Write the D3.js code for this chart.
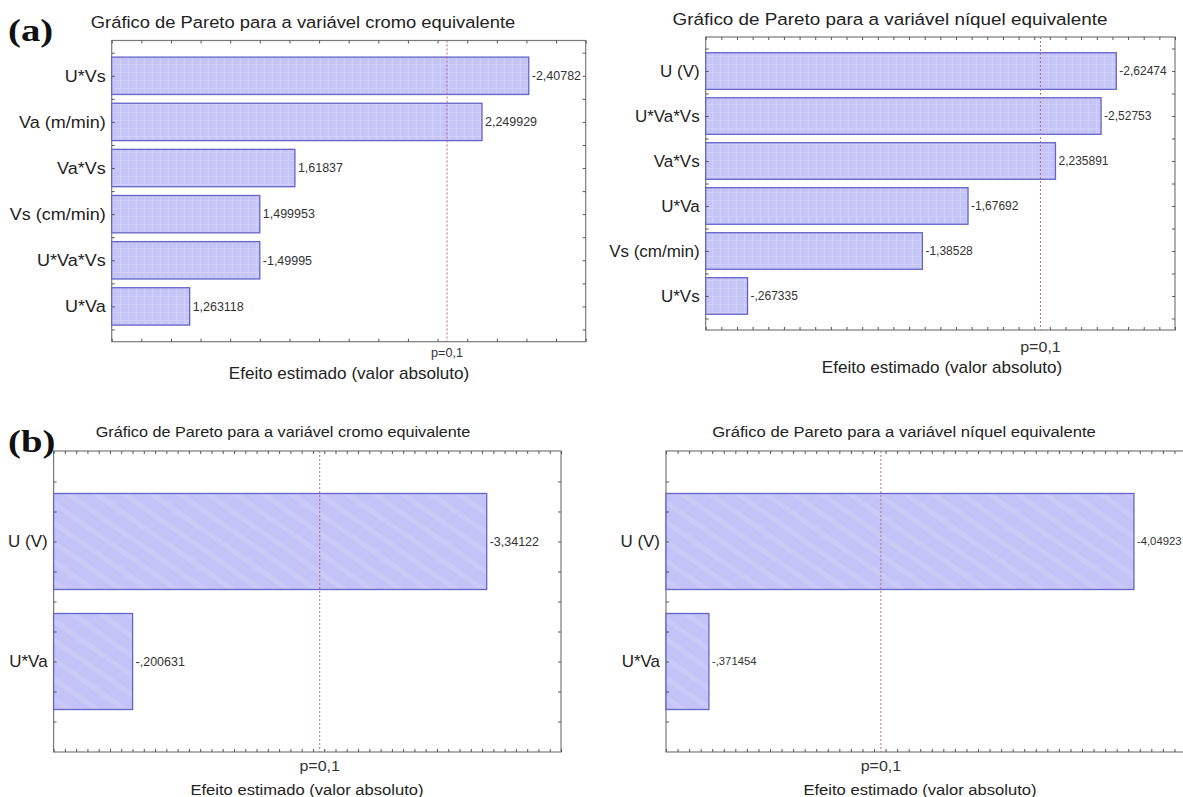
<!DOCTYPE html>
<html>
<head>
<meta charset="utf-8">
<script src="https://cdn.jsdelivr.net/npm/d3@7"></script>
<style>
  body { margin: 0; background: #fff; }
  svg { display: block; font-family: Arial, "Liberation Sans", sans-serif; }
</style>
</head>
<body>
<svg id="chart" width="1183" height="797"></svg>
<script>
// (a) cromo equivalente
const crLabelsA = ["U*Vs", "Va (m/min)", "Va*Vs", "Vs (cm/min)", "U*Va*Vs", "U*Va"];
const crEffectsA = [-2.40782, 2.249929, 1.61837, 1.499953, -1.49995, 1.263118];
const crPcritA = 2.132;

// (a) niquel equivalente
const niLabelsA = ["U (V)", "U*Va*Vs", "Va*Vs", "U*Va", "Vs (cm/min)", "U*Vs"];
const niEffectsA = [-2.62474, -2.52753, 2.235891, -1.67692, -1.38528, -0.267335];
const niPcritA = 2.14;

// (b) both
const crLabelsB = ["U (V)", "U*Va"];
const crEffectsB = [-3.34122, -0.200631];
const crPcritB = 1.86;

const niLabelsB = ["U (V)", "U*Va"];
const niEffectsB = [-4.04923, -0.371454];
const niPcritB = 1.86;

const titleCr = "Gráfico de Pareto para a variável cromo equivalente";
const titleNi = "Gráfico de Pareto para a variável níquel equivalente";
const pText = "p=0,1";
const xTitle = "Efeito estimado (valor absoluto)";

const svg = d3.select("#chart");

// bar textures
const defs = svg.append("defs");
const grid = defs.append("pattern")
    .attr("id", "texA").attr("patternUnits", "userSpaceOnUse")
    .attr("width", 8).attr("height", 8);
grid.append("rect").attr("width", 8).attr("height", 8).attr("fill", "#c5c5f7");
grid.append("path").attr("d", "M0,0.5H8M0.5,0V8").attr("stroke", "#d0d0fa").attr("stroke-width", 1);

const stripes = defs.append("pattern")
    .attr("id", "texB").attr("patternUnits", "userSpaceOnUse")
    .attr("width", 16).attr("height", 16)
    .attr("patternTransform", "rotate(-55)");
stripes.append("rect").attr("width", 16).attr("height", 16).attr("fill", "#c3c3f8");
stripes.append("rect").attr("width", 5).attr("height", 16).attr("fill", "#cacaf9");

// Statistica style numbers: comma decimal, no leading zero
const fmt = v => String(v).replace(".", ",").replace(/^(-?)0,/, "$1,");

// the source picture is a bit stretched sideways, so text gets a small x scale
const at = (x, y, sx) => `translate(${x},${y}) scale(${sx},1)`;

const panels = [
    {labels: crLabelsA, effects: crEffectsA, pCrit: crPcritA, title: titleCr,
     domain: [1.0, 2.6], xStep: 0.1, left: 111.7, right: 585.7, top: 40.5, bottom: 341.7,
     padIn: 0.19, padOut: 0.36, ySub: 0.5, tex: "texA", labelSize: 17, labelSx: 1.06,
     valSize: 12, valSx: 1.04,
     titleX: 303, titleY: 28, titleSize: 17, titleSx: 1.08,
     pY: 357, pSize: 12, pSx: 1.05, axX: 349, axY: 379, axSize: 16,
     tag: "(a)", tagY: 41},
    {labels: niLabelsA, effects: niEffectsA, pCrit: niPcritA, title: titleNi,
     domain: [0, 3.0], xStep: 0.1, left: 705.7, right: 1175, top: 37, bottom: 330,
     padIn: 0.187, padOut: 0.35, ySub: 0.5, tex: "texA", labelSize: 16.5, labelSx: 1.03,
     valSize: 12, valSx: 1.0,
     titleX: 890, titleY: 24.5, titleSize: 17, titleSx: 1.11,
     pY: 352, pSize: 15, pSx: 1.07, axX: 942, axY: 372.5, axSize: 16},
    {labels: crLabelsB, effects: crEffectsB, pCrit: crPcritB, title: titleCr,
     domain: [-0.5, 4.0], xStep: 0.1, left: 53.6, right: 561, top: 451, bottom: 752,
     padIn: 0.2, padOut: 0.354, ySub: 0.25, tex: "texB", labelSize: 16, labelSx: 1.06,
     valSize: 12, valSx: 1.04,
     titleX: 283, titleY: 437, titleSize: 15, titleSx: 1.08,
     pY: 771, pSize: 15, pSx: 1.07, axX: 307, axY: 795, axSize: 15.5,
     tag: "(b)", tagY: 452},
    {labels: niLabelsB, effects: niEffectsB, pCrit: niPcritB, title: titleNi,
     domain: [0, 4.5], xStep: 0.1, left: 666, right: 1186, top: 451, bottom: 752,
     padIn: 0.2, padOut: 0.354, ySub: 0.25, tex: "texB", labelSize: 16, labelSx: 1.06,
     valSize: 11.3, valSx: 1.0,
     titleX: 904, titleY: 437, titleSize: 15, titleSx: 1.11,
     pY: 771, pSize: 15, pSx: 1.07, axX: 920, axY: 795, axSize: 15.5},
];

function drawPanel(p) {
    const g = svg.append("g");
    const rows = p.labels.map((label, i) => ({label, effect: p.effects[i]}));

    const x = d3.scaleLinear().domain(p.domain).range([p.left, p.right]);
    const y = d3.scaleBand()
        .domain(p.labels)
        .range([p.top, p.bottom])
        .paddingInner(p.padIn)
        .paddingOuter(p.padOut);
    const mid = d => y(d.label) + y.bandwidth() / 2;
    // index scale for the small ticks on the side frames
    const n = p.labels.length;
    const yi = d3.scaleLinear()
        .domain([0, n - 1])
        .range([y(p.labels[0]) + y.bandwidth() / 2, y(p.labels[n - 1]) + y.bandwidth() / 2]);
    const yTicks = d3.range(-0.5, n - 0.5 + 1e-9, p.ySub)
        .filter(v => yi(v) > p.top + 2 && yi(v) < p.bottom - 2);
    const xTicks = d3.range(Math.ceil(p.domain[0] / p.xStep), Math.floor(p.domain[1] / p.xStep) + 1)
        .map(k => +(k * p.xStep).toFixed(3));

    // frame
    g.append("rect")
        .attr("x", p.left).attr("y", p.top)
        .attr("width", p.right - p.left).attr("height", p.bottom - p.top)
        .attr("fill", "#fff").attr("stroke", "#7a7a7a").attr("stroke-width", 1.2);

    // bars
    g.append("g")
        .selectAll("rect")
        .data(rows)
        .join("rect")
        .attr("x", x(p.domain[0]))
        .attr("y", d => y(d.label))
        .attr("width", d => x(Math.abs(d.effect)) - x(p.domain[0]))
        .attr("height", y.bandwidth())
        .attr("fill", `url(#${p.tex})`)
        .attr("stroke", "#6464c8")
        .attr("stroke-width", 1.3);

    // p = 0.1 line
    g.append("line")
        .attr("x1", x(p.pCrit)).attr("x2", x(p.pCrit))
        .attr("y1", p.top).attr("y2", p.bottom)
        .attr("stroke", "#b36a8e").attr("stroke-width", 1)
        .attr("stroke-dasharray", "2,2");

    // inward ticks on all four sides
    const tickStyle = sel => {
        sel.select(".domain").remove();
        sel.selectAll(".tick line").attr("stroke", "#555");
    };
    g.append("g").attr("transform", `translate(0,${p.top})`)
        .call(d3.axisTop(x).tickValues(xTicks).tickSize(-3).tickFormat(""))
        .call(tickStyle);
    g.append("g").attr("transform", `translate(0,${p.bottom})`)
        .call(d3.axisBottom(x).tickValues(xTicks).tickSize(-3).tickFormat(""))
        .call(tickStyle);
    g.append("g").attr("transform", `translate(${p.left},0)`)
        .call(d3.axisLeft(yi).tickValues(yTicks).tickSize(-3).tickFormat(""))
        .call(tickStyle);
    g.append("g").attr("transform", `translate(${p.right},0)`)
        .call(d3.axisRight(yi).tickValues(yTicks).tickSize(-3).tickFormat(""))
        .call(tickStyle);

    // category labels
    g.append("g")
        .selectAll("text")
        .data(rows)
        .join("text")
        .attr("transform", d => at(p.left - 6, mid(d), p.labelSx))
        .attr("dy", "0.35em")
        .attr("text-anchor", "end")
        .attr("font-size", p.labelSize)
        .attr("fill", "#222")
        .text(d => d.label);

    // effect values
    g.append("g")
        .selectAll("text")
        .data(rows)
        .join("text")
        .attr("transform", d => at(x(Math.abs(d.effect)) + 3, mid(d), p.valSx))
        .attr("dy", "0.35em")
        .attr("font-size", p.valSize)
        .attr("fill", "#333")
        .text(d => fmt(d.effect));

    g.append("text")
        .attr("transform", at(x(p.pCrit), p.pY, p.pSx))
        .attr("text-anchor", "middle")
        .attr("font-size", p.pSize)
        .attr("fill", "#333")
        .text(pText);

    g.append("text")
        .attr("transform", at(p.axX, p.axY, 1.07))
        .attr("text-anchor", "middle")
        .attr("font-size", p.axSize)
        .attr("fill", "#222")
        .text(xTitle);

    g.append("text")
        .attr("transform", at(p.titleX, p.titleY, p.titleSx))
        .attr("text-anchor", "middle")
        .attr("font-size", p.titleSize)
        .attr("fill", "#222")
        .text(p.title);

    if (p.tag) {
        svg.append("text")
            .attr("transform", at(8, p.tagY, 1.25))
            .attr("font-family", "'Liberation Serif', 'Times New Roman', serif")
            .attr("font-weight", "bold")
            .attr("font-size", 31)
            .attr("fill", "#111")
            .text(p.tag);
    }
}

panels.forEach(drawPanel);
</script>
</body>
</html>
